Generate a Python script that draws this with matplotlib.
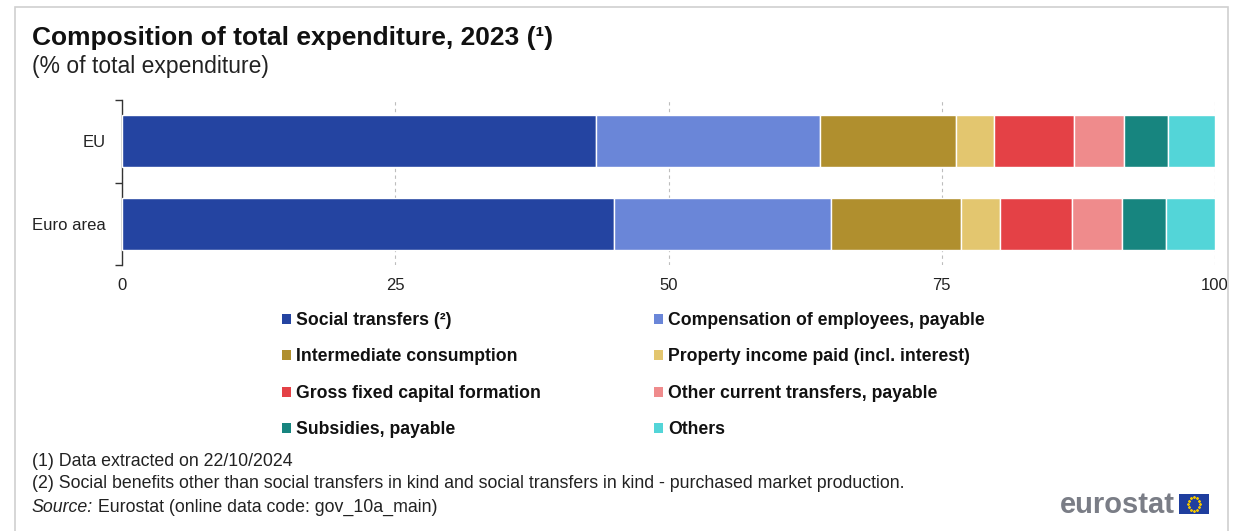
import matplotlib
matplotlib.use("Agg")
import matplotlib.pyplot as plt
from matplotlib.patches import Rectangle
import numpy as np

plt.rcParams['font.family'] = ['Liberation Sans', 'DejaVu Sans']

# Data: share of total general government expenditure, 2023 (%)
regions = ["EU", "Euro area"]
components = [
    "Social transfers (²)",
    "Compensation of employees, payable",
    "Intermediate consumption",
    "Property income paid (incl. interest)",
    "Gross fixed capital formation",
    "Other current transfers, payable",
    "Subsidies, payable",
    "Others",
]
eu_values = [43.4, 20.5, 12.4, 3.5, 7.3, 4.6, 4.0, 4.3]
euro_area_values = [45.0, 19.9, 11.9, 3.5, 6.6, 4.6, 4.0, 4.5]
colors = ["#2444a1", "#6a86d8", "#b08f2e", "#e3c66f",
          "#e44146", "#ef8b8c", "#17857f", "#53d5d8"]
x_ticks = [0, 25, 50, 75, 100]

W, H = 1244, 531
fig = plt.figure(figsize=(W / 100, H / 100), dpi=100)

def fx(px):
    return px / W

def fy(py):
    return 1 - py / H

# light frame around the chart
fig.patches.append(Rectangle((fx(15), fy(560)), fx(1228) - fx(15), fy(7) - fy(560),
                             transform=fig.transFigure, fill=False,
                             edgecolor="#d0d0d0", linewidth=1.2))

ax = fig.add_axes([fx(122), fy(265), fx(1215) - fx(122), fy(100) - fy(265)])

values = np.array([eu_values, euro_area_values])
ypos = np.arange(len(regions))
left = np.zeros(len(regions))
handles = []
for j, comp in enumerate(components):
    b = ax.barh(ypos, values[:, j], left=left, height=0.63, color=colors[j],
                edgecolor="white", linewidth=1.0, label=comp, zorder=3)
    handles.append(b)
    left += values[:, j]

ax.set_xlim(0, 100)
ax.set_ylim(1.5, -0.5)
ax.set_xticks(x_ticks)
ax.set_xticklabels([str(t) for t in x_ticks])
ax.tick_params(axis="x", length=0, pad=9, labelsize=12, labelcolor="#222222")
ax.xaxis.grid(True, linestyle=(0, (3, 3)), color="#bdbdbd", linewidth=0.8, zorder=0)

# category boundaries as ticks, names as minor labels
ax.set_yticks([-0.5, 0.5, 1.5])
ax.set_yticklabels([])
ax.set_yticks(ypos, minor=True)
ax.set_yticklabels(regions, minor=True)
ax.tick_params(axis="y", which="major", length=5, width=1, color="#333333", direction="out")
ax.tick_params(axis="y", which="minor", length=0, pad=12, labelsize=12, labelcolor="#222222")

for s in ["top", "right", "bottom"]:
    ax.spines[s].set_visible(False)
ax.spines["left"].set_color("#333333")
ax.spines["left"].set_linewidth(1.0)

# Titles
fig.text(fx(32), fy(38), "Composition of total expenditure, 2023 (¹)",
         fontsize=19, fontweight="bold", va="center", ha="left", color="#111111")
fig.text(fx(32), fy(67), "(% of total expenditure)",
         fontsize=16.5, va="center", ha="left", color="#222222")

# Legend in two columns, row-wise order
col1 = [0, 2, 4, 6]
col2 = [1, 3, 5, 7]
leg_kw = dict(frameon=False, handlelength=0.5, handleheight=0.5,
              handletextpad=0.3, labelspacing=1.1, borderaxespad=0, borderpad=0,
              prop={"weight": "bold", "size": 12.7})
leg1 = fig.legend([handles[i] for i in col1], [components[i] for i in col1],
                  loc="upper left", bbox_to_anchor=(fx(282), fy(312)), **leg_kw)
leg2 = fig.legend([handles[i] for i in col2], [components[i] for i in col2],
                  loc="upper left", bbox_to_anchor=(fx(654), fy(312)), **leg_kw)
for leg in (leg1, leg2):
    for t in leg.get_texts():
        t.set_color("#111111")
    for h in leg.legend_handles:
        h.set_edgecolor("none")

# Footnotes
foot_size = 12.8
fig.text(fx(32), fy(462), "(1) Data extracted on 22/10/2024",
         fontsize=foot_size, va="center", ha="left", color="#222222")
fig.text(fx(32), fy(483),
         "(2) Social benefits other than social transfers in kind and social transfers in kind - purchased market production.",
         fontsize=foot_size, va="center", ha="left", color="#222222")
src = fig.text(fx(32), fy(507), "Source:", fontsize=foot_size, style="italic",
               va="center", ha="left", color="#222222")
fig.canvas.draw()
bb = src.get_window_extent().transformed(fig.transFigure.inverted())
fig.text(bb.x1, fy(507), " Eurostat (online data code: gov_10a_main)",
         fontsize=foot_size, va="center", ha="left", color="#222222")

# eurostat wordmark with flag
fig.text(fx(1175), fy(505), "eurostat", fontsize=21, fontweight="bold",
         va="center", ha="right", color="#7a7d86")
flag = fig.add_axes([fx(1179), fy(514), fx(30), fy(494) - fy(514)])
flag.set_facecolor("#1f3e9e")
ang = np.linspace(0, 2 * np.pi, 13)[:-1]
flag.scatter(0.5 + 0.28 * np.cos(ang) * 0.67, 0.5 + 0.33 * np.sin(ang),
             s=1.2, color="#f2c500", marker="*")
flag.set_xlim(0, 1)
flag.set_ylim(0, 1)
flag.set_xticks([])
flag.set_yticks([])
for s in flag.spines.values():
    s.set_visible(False)

fig.savefig("out.png", dpi=100)
